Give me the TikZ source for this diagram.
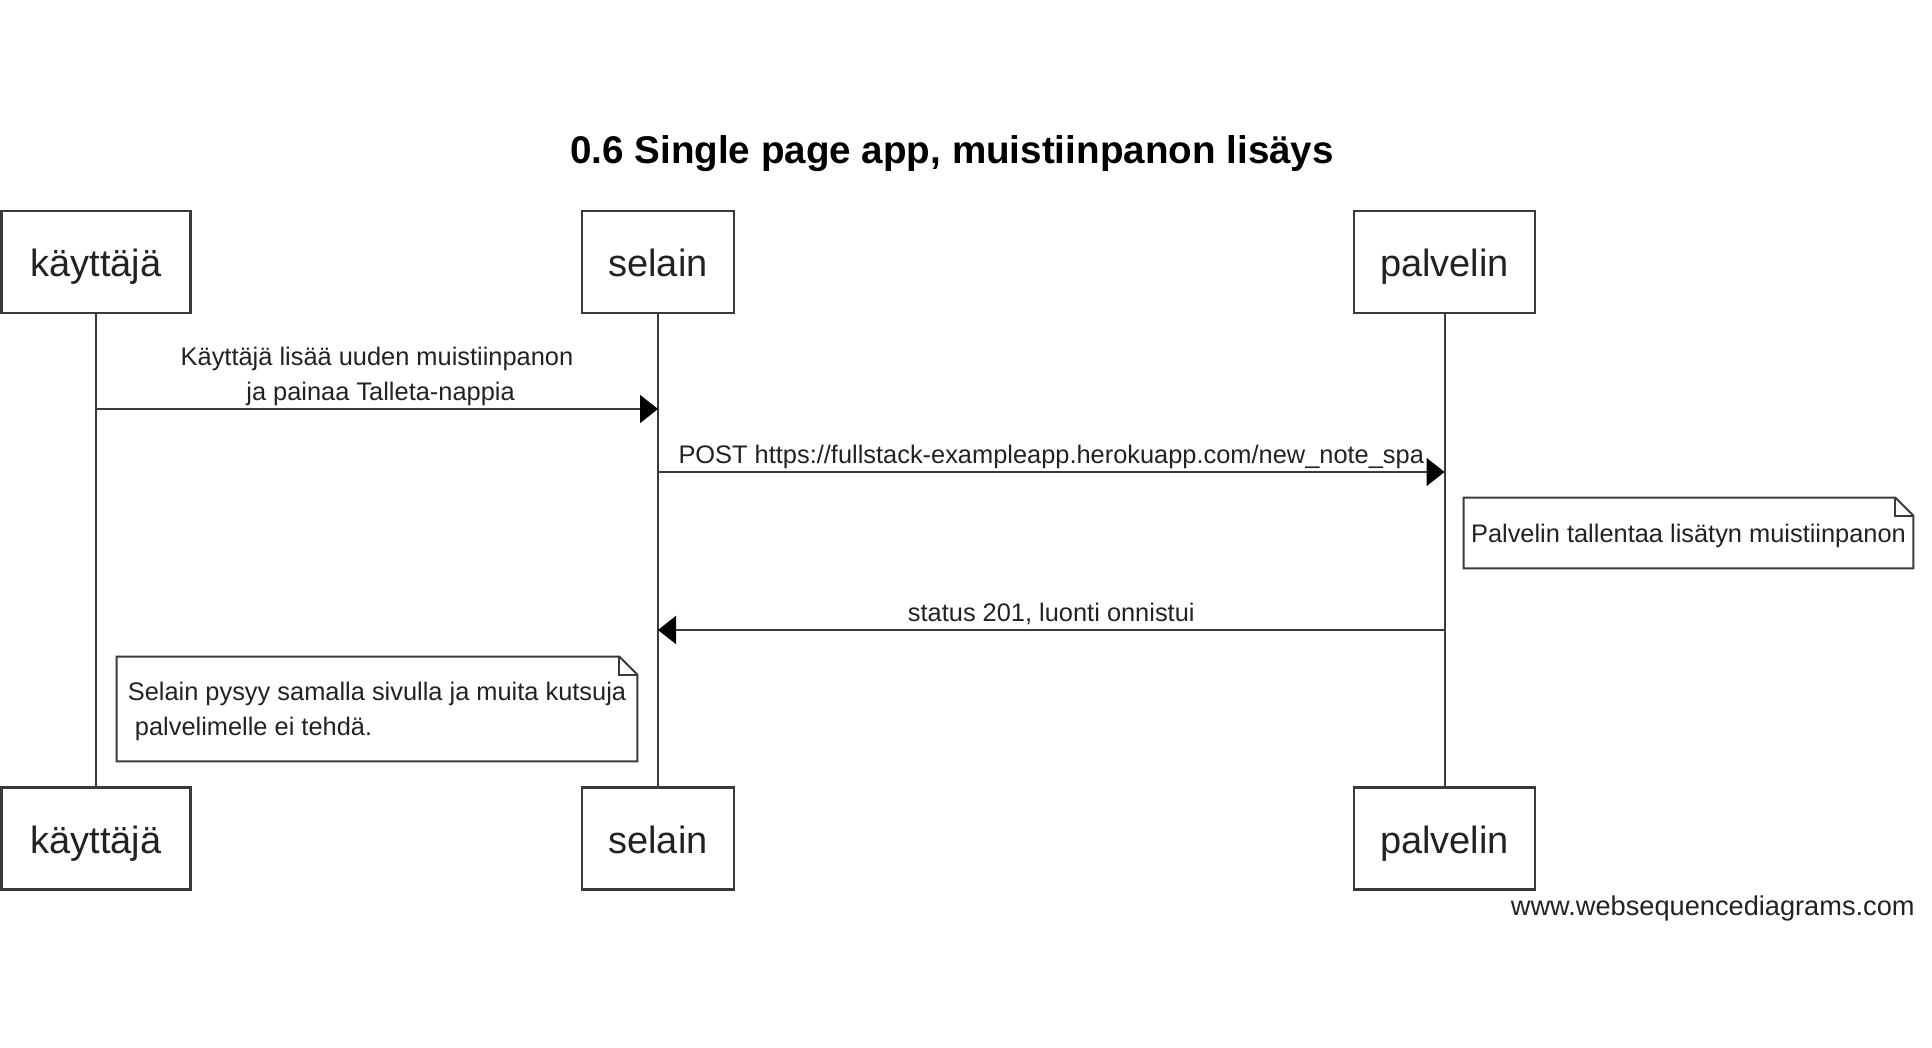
\documentclass[tikz,border=0pt]{standalone}
\usepackage{fontspec}
\setmainfont{Liberation Sans}
\usetikzlibrary{arrows.meta}
\definecolor{ln}{HTML}{3A3A3A}
\definecolor{tx}{HTML}{222222}
\begin{document}
\begin{tikzpicture}[x=0.5pt,y=-0.5pt,
  actor/.style={draw=ln, line width=1.1pt, fill=white, minimum height=51pt, inner sep=0pt,
    text height=19pt, text depth=4.2pt,
    font=\fontsize{19}{22}\selectfont, text=tx},
  life/.style={draw=ln, line width=1pt},
  msg/.style={draw=ln, line width=1pt, -{Triangle[length=9pt,width=14pt,color=black]}},
  lbl/.style={font=\fontsize{12.7}{17.5}\selectfont, text=tx, inner sep=0pt, align=center},
  note/.style={font=\fontsize{12.7}{17.5}\selectfont, text=tx, inner sep=0pt, align=left},
  notebox/.style={draw=ln, line width=1pt}
]
\useasboundingbox (0,0) rectangle (1932,1048);

% title
\node[font=\bfseries\fontsize{19.3}{23}\selectfont, anchor=base, inner sep=0pt] (title) at (952,164)
  {0.6 Single page app, muistiinpanon lisäys};

% actors
\node[actor, minimum width=94.5pt] (u1) at (96,262) {käyttäjä};
\node[actor, minimum width=76pt]   (s1) at (658,262) {selain};
\node[actor, minimum width=90.5pt] (p1) at (1444.5,262) {palvelin};
\node[actor, minimum width=94.5pt] (u2) at (96,838.5) {käyttäjä};
\node[actor, minimum width=76pt]   (s2) at (658,838.5) {selain};
\node[actor, minimum width=90.5pt] (p2) at (1444.5,838.5) {palvelin};

% lifelines
\draw[life] (u1) -- (u2);
\draw[life] (s1) -- (s2);
\draw[life] (p1) -- (p2);

% message coordinates
\coordinate (m1a) at (u1 |- 0,409);
\coordinate (m1b) at (s1 |- 0,409);
\coordinate (m2a) at (s1 |- 0,472);
\coordinate (m2b) at (p1 |- 0,472);
\coordinate (m3a) at (p1 |- 0,630);
\coordinate (m3b) at (s1 |- 0,630);

\draw[msg] (m1a) -- (m1b) node[lbl, midway, anchor=base, yshift=4.5pt] (l1)
  {Käyttäjä lisää uuden muistiinpanon\\\hspace*{0.28em}ja painaa Talleta-nappia};
\draw[msg] (m2a) -- (m2b) node[lbl, midway, anchor=base, yshift=4.5pt] (l2)
  {POST https://fullstack-exampleapp.herokuapp.com/new\_note\_spa};
\draw[msg] (m3a) -- (m3b) node[lbl, midway, anchor=base, yshift=4.5pt] (l3)
  {status 201, luonti onnistui};

% note 1
\node[note, minimum width=224.5pt, minimum height=35pt, text depth=0pt] (n1) at (1688.5,533)
  {Palvelin tallentaa lisätyn muistiinpanon};
\draw[notebox] (n1.north west) -- ([xshift=-9pt]n1.north east) -- ([yshift=-9pt]n1.north east)
  -- (n1.south east) -- (n1.south west) -- cycle;
\draw[notebox] ([xshift=-9pt]n1.north east) -- ([xshift=-9pt,yshift=-9pt]n1.north east)
  -- ([yshift=-9pt]n1.north east);

% note 2
\node[note, minimum width=260pt, minimum height=52pt] (n2) at (377,709)
  {\rule{0pt}{11.8pt}Selain pysyy samalla sivulla ja muita kutsuja\\\hspace*{0.28em}palvelimelle ei tehdä.};
\draw[notebox] (n2.north west) -- ([xshift=-9pt]n2.north east) -- ([yshift=-9pt]n2.north east)
  -- (n2.south east) -- (n2.south west) -- cycle;
\draw[notebox] ([xshift=-9pt]n2.north east) -- ([xshift=-9pt,yshift=-9pt]n2.north east)
  -- ([yshift=-9pt]n2.north east);

% watermark
\node[anchor=base east, inner sep=0pt, font=\fontsize{13.6}{16}\selectfont, text=tx] (wm)
  at (1915,915) {www.websequencediagrams.com};
\end{tikzpicture}
\end{document}
